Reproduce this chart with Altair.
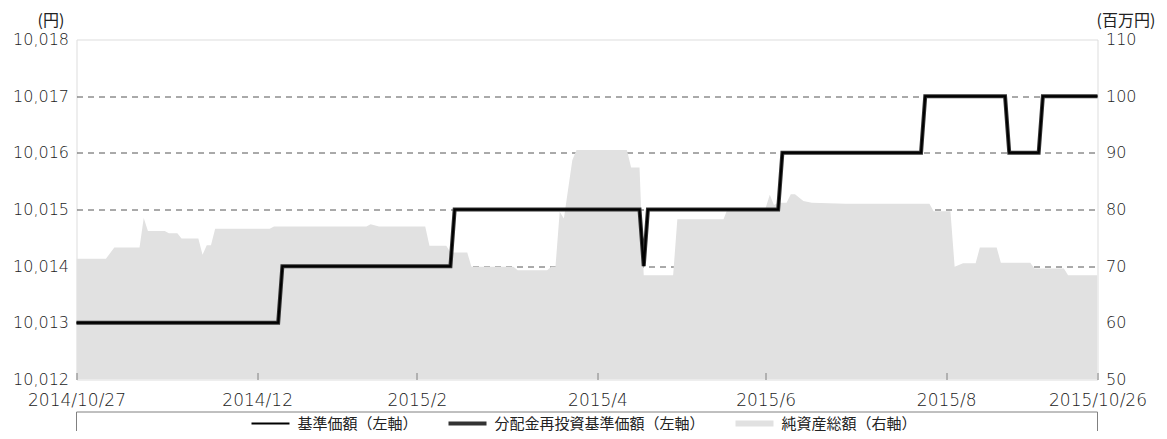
import altair as alt
import pandas as pd

# x = business-day index: 0 = 2014/10/27 ... 243 = 2015/10/26
tick_idx = [0, 43, 81, 124, 164, 207, 243]
tick_labels = ["2014/10/27", "2014/12", "2015/2", "2015/4", "2015/6", "2015/8", "2015/10/26"]

# 基準価額 (yen) - change points
nav_idx = [0, 48, 49, 89, 90, 134, 135, 136, 167, 168, 201, 202, 221, 222, 229, 230, 243]
nav_val = [10013, 10013, 10014, 10014, 10015, 10015, 10014, 10015, 10015, 10016,
           10016, 10017, 10017, 10016, 10016, 10017, 10017]

# 分配金再投資基準価額 (yen) - identical path (no distributions)
reinv_idx = [0, 48, 49, 89, 90, 134, 135, 136, 167, 168, 201, 202, 221, 222, 229, 230, 243]
reinv_val = [10013, 10013, 10014, 10014, 10015, 10015, 10014, 10015, 10015, 10016,
             10016, 10017, 10017, 10016, 10016, 10017, 10017]

# 純資産総額 (million yen)
aum_idx = [0, 7, 9, 15, 16, 17, 21, 22, 24, 25, 29, 30, 31, 32, 33, 46, 47, 69, 70, 72,
           83, 84, 88, 89, 93, 94, 104, 105, 112, 113, 114, 115, 116, 118, 119, 131, 132, 134, 135, 142,
           143, 154, 155, 164, 165, 166, 167, 169, 170, 171, 173, 175, 183, 203, 204, 208, 209, 211, 214, 215,
           219, 220, 227, 228, 235, 236, 243]
aum_val = [71.3, 71.3, 73.3, 73.3, 78.5, 76.2, 76.2, 75.8, 75.8, 74.9, 74.9, 72.0, 73.7, 73.7, 76.6, 76.6, 77.0, 77.0, 77.4, 77.0,
           77.0, 73.6, 73.6, 72.4, 72.4, 69.9, 69.9, 69.3, 69.3, 69.9, 69.9, 79.6, 78.4, 88.7, 90.5, 90.5, 87.4, 87.4, 68.4, 68.4,
           78.3, 78.3, 80.2, 80.2, 82.6, 80.8, 81.2, 81.2, 82.7, 82.7, 81.5, 81.2, 81.0, 81.0, 79.7, 79.7, 69.9, 70.5, 70.5, 73.3,
           73.3, 70.6, 70.6, 69.6, 69.6, 68.4, 68.4]
aum_base = 50

series_names = ["基準価額（左軸）", "分配金再投資基準価額（左軸）", "純資産総額（右軸）"]
series_colors = ["#000000", "#333333", "#e1e1e1"]
series_shapes = ["M-1,-0.055H1V0.055H-1Z", "M-1,-0.105H1V0.105H-1Z", "M-1,-0.16H1V0.16H-1Z"]

left_ticks = [10012, 10013, 10014, 10015, 10016, 10017, 10018]
right_ticks = [50, 60, 70, 80, 90, 100, 110]

FONT_NUM = "DejaVu Sans"
NUM_W = 300
FONT_JP = "Noto Sans CJK JP"
TXT = "#222222"
FRAME = "#808080"
W, H = 1021, 340

label_expr = " : ".join(f"datum.value == {i} ? '{l}'" for i, l in zip(tick_idx, tick_labels)) + " : ''"

x_enc = alt.X(
    "idx:Q",
    scale=alt.Scale(domain=[0, 243], nice=False, zero=False),
    axis=alt.Axis(
        values=tick_idx, labelExpr=label_expr, title=None, domain=False, grid=False,
        ticks=True, tickSize=7, tickColor=FRAME, tickWidth=1, offset=-7,
        labelPadding=25.5, labelBaseline="alphabetic", labelFlush=False, labelOverlap=False,
        labelFont=FONT_NUM, labelFontSize=17, labelFontWeight=NUM_W, labelColor=TXT, zindex=1,
    ),
)

aum_df = pd.DataFrame({"idx": aum_idx, "value": aum_val})
nav_df = pd.DataFrame({"idx": nav_idx, "value": nav_val})
reinv_df = pd.DataFrame({"idx": reinv_idx, "value": reinv_val})

area = alt.Chart(aum_df).mark_area(color="#e1e1e1", interpolate="linear", clip=True).encode(
    x=x_enc,
    y=alt.Y(
        "value:Q",
        scale=alt.Scale(domain=[50, 110], nice=False, zero=False),
        axis=alt.Axis(
            orient="right", values=right_ticks, title="(百万円)", titleAngle=0,
            titleX=28, titleY=-19, titleAlign="center", titleBaseline="middle",
            titleFont=FONT_JP, titleFontSize=16, titleFontWeight="normal", titleColor=TXT,
            labelFont=FONT_NUM, labelFontSize=16, labelFontWeight=NUM_W, labelColor=TXT, labelPadding=8,
            ticks=False, domain=False, grid=False,
        ),
    ),
    y2=alt.datum(aum_base),
)

left_axis = alt.Axis(
    orient="left", values=left_ticks, format=",d", title="(円)", titleAngle=0,
    titleX=-26, titleY=-19, titleAlign="center", titleBaseline="middle",
    titleFont=FONT_JP, titleFontSize=16, titleFontWeight="normal", titleColor=TXT,
    labelFont=FONT_NUM, labelFontSize=16, labelFontWeight=NUM_W, labelColor=TXT, labelPadding=8,
    ticks=False, domain=False, grid=True, gridDash=[6, 5], gridColor="#555555", gridWidth=1,
    gridOpacity={"condition": {"test": "datum.value == 10012 || datum.value == 10018", "value": 0}, "value": 1},
)
y_left_scale = alt.Scale(domain=[10012, 10018], nice=False, zero=False)

thick = alt.Chart(reinv_df).mark_line(color="#333333", strokeWidth=4, strokeJoin="miter").encode(
    x=x_enc, y=alt.Y("value:Q", scale=y_left_scale, axis=left_axis)
)
thin = alt.Chart(nav_df).mark_line(color="#000000", strokeWidth=2, strokeJoin="miter").encode(
    x=x_enc, y=alt.Y("value:Q", scale=y_left_scale, axis=left_axis)
)
lines = alt.layer(thick, thin)

leg = alt.Legend(
    title=None, orient="none", legendX=175, legendY=365, direction="horizontal",
    labelFont=FONT_JP, labelFontSize=15, labelColor=TXT, labelLimit=400,
    symbolSize=1444, symbolStrokeWidth=0, symbolOpacity=1, labelOffset=8,
    columnPadding=30, padding=0, rowPadding=0,
)
legend_df = pd.DataFrame({"series": series_names})
legend_layer = alt.Chart(legend_df).transform_filter("false").mark_point(filled=True).encode(
    color=alt.Color("series:N", scale=alt.Scale(domain=series_names, range=series_colors), legend=leg),
    shape=alt.Shape("series:N", scale=alt.Scale(domain=series_names, range=series_shapes), legend=leg),
)

frame = alt.Chart(pd.DataFrame({"k": [0]})).mark_rect(
    filled=False, stroke=FRAME, strokeWidth=1, opacity=1
).encode(x=alt.value(0), x2=alt.value(W), y=alt.value(372.5), y2=alt.value(420))

chart = (
    alt.layer(area, lines, legend_layer, frame)
    .resolve_scale(y="independent")
    .properties(
        width=W, height=H,
        autosize=alt.AutoSizeParams(type="none"),
        padding={"left": 68.5, "top": 31.5, "right": 61, "bottom": 51.5},
    )
    .configure_view(stroke=FRAME, strokeWidth=1)
    .configure(background="white")
)

chart.save("out.html", embed_options={"renderer": "svg", "actions": False})
